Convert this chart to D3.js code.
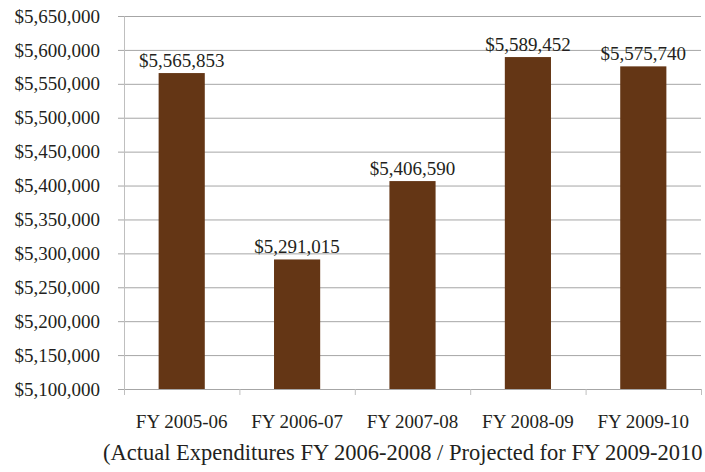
<!DOCTYPE html>
<html>
<head>
<meta charset="utf-8">
<script src="https://cdn.jsdelivr.net/npm/d3@7"></script>
<style>
  body { margin: 0; background: #fff; }
  text { font-family: "Liberation Serif", "DejaVu Serif", serif; fill: #231f20; }
</style>
</head>
<body>
<svg id="chart" width="705" height="472"></svg>
<script>
const categories = ["FY 2005-06", "FY 2006-07", "FY 2007-08", "FY 2008-09", "FY 2009-10"]
const expenditures = [5565853, 5291015, 5406590, 5589452, 5575740]
const yTicks = [5100000, 5150000, 5200000, 5250000, 5300000, 5350000, 5400000, 5450000, 5500000, 5550000, 5600000, 5650000]
const axisTitle = "(Actual Expenditures FY 2006-2008 / Projected for FY 2009-2010"

const margin = { top: 16, right: 4, bottom: 83, left: 124 }
const width = 705 - margin.left - margin.right
const height = 472 - margin.top - margin.bottom

const svg = d3.select("#chart")
const chart = svg.append("g")
  .attr("transform", `translate(${margin.left},${margin.top})`)

const x = d3.scaleBand()
  .domain(categories)
  .range([0, width])
  .paddingInner(0.6)
  .paddingOuter(0.3)

const y = d3.scaleLinear()
  .domain([5100000, 5650000])
  .range([height, 0])

const money = d3.format("$,")

// Gridlines
chart.append("g")
  .selectAll("line")
  .data(yTicks.slice(1))
  .enter()
  .append("line")
  .attr("x1", 0)
  .attr("x2", width)
  .attr("y1", d => y(d) + 0.5)
  .attr("y2", d => y(d) + 0.5)
  .attr("stroke", "#a6a6a6")
  .attr("stroke-width", 1)

// Y axis
const yAxis = chart.append("g")
  .call(d3.axisLeft(y).tickValues(yTicks).tickFormat(money).tickSize(6).tickPadding(18))
yAxis.select(".domain").attr("stroke", "#bfbfbf")
yAxis.selectAll(".tick line").attr("stroke", "#a6a6a6")
yAxis.selectAll(".tick text")
  .attr("font-size", "19px")
  .attr("fill", "#231f20")
  .style("font-family", "'Liberation Serif', serif")

// X axis with boundary ticks
const boundaries = d3.range(categories.length + 1).map(i => i * x.step())
const xAxisG = chart.append("g").attr("transform", `translate(0,${height})`)
xAxisG.append("line")
  .attr("x1", 0).attr("x2", width)
  .attr("y1", 0.5).attr("y2", 0.5)
  .attr("stroke", "#a6a6a6")
xAxisG.selectAll(".bound")
  .data(boundaries)
  .enter()
  .append("line")
  .attr("class", "bound")
  .attr("x1", d => d + 0.5).attr("x2", d => d + 0.5)
  .attr("y1", 0).attr("y2", 6)
  .attr("stroke", "#bfbfbf")

xAxisG.selectAll(".cat")
  .data(categories)
  .enter()
  .append("text")
  .attr("class", "cat")
  .attr("x", d => x(d) + x.bandwidth() / 2)
  .attr("y", 39)
  .attr("text-anchor", "middle")
  .attr("font-size", "19px")
  .text(d => d)

// Bars
chart.selectAll(".bar")
  .data(expenditures)
  .enter()
  .append("rect")
  .attr("class", "bar")
  .attr("x", (d, i) => x(categories[i]))
  .attr("width", x.bandwidth())
  .attr("y", d => y(d))
  .attr("height", d => height - y(d))
  .attr("fill", "#643615")

// Value labels
chart.selectAll(".value")
  .data(expenditures)
  .enter()
  .append("text")
  .attr("class", "value")
  .attr("x", (d, i) => x(categories[i]) + x.bandwidth() / 2)
  .attr("y", d => y(d) - 6)
  .attr("text-anchor", "middle")
  .attr("font-size", "19px")
  .text(d => money(d))

// Axis title
svg.append("text")
  .attr("x", 103)
  .attr("y", 460)
  .attr("font-size", "22.5px")
  .text(axisTitle)
</script>
</body>
</html>
